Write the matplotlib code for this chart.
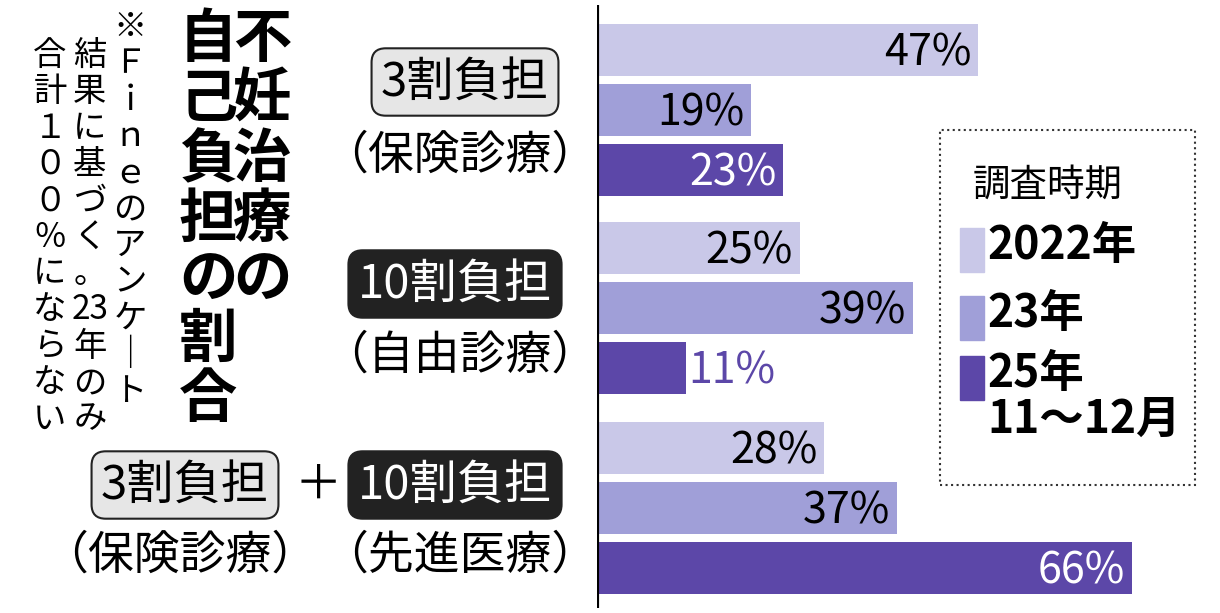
import matplotlib
matplotlib.use('Agg')
import matplotlib.pyplot as plt
from matplotlib.patches import Rectangle

plt.rcParams['font.family'] = ['Noto Sans CJK JP', 'DejaVu Sans']

# data
groups = ['3割負担', '10割負担', '3割負担+10割負担']
years = ['2022年', '23年', '25年\n11～12月']
v2022 = [47, 25, 28]
v2023 = [19, 39, 37]
v2025 = [23, 11, 66]
colors = ['#c9c8e8', '#a09fd8', '#5c47a8']

W, H = 1220, 613
fig = plt.figure(figsize=(W / 100, H / 100), dpi=100)
ppx = 8.1  # pixels per percent
x0 = 597
ax = fig.add_axes([x0 / W, 5 / H, (W - x0) / W, 603 / H])
ax.set_xlim(0, (W - x0) / ppx)
ax.set_ylim(608, 5)
ax.axis('off')
ax.axvline(0, color='black', lw=3)

centers = [50, 248, 448]
txtcol = [['black', 'black', 'white'], ['black', 'black', '#5c47a8'], ['black', 'black', 'white']]
for g, c in enumerate(centers):
    for k, vals in enumerate([v2022, v2023, v2025]):
        y = c + k * 60
        v = vals[g]
        ax.barh(y, v, height=52, color=colors[k])
        col = txtcol[g][k]
        if g == 1 and k == 2:
            ax.text(v + 0.3, y + 4, f'{v}%', color=col, fontsize=31, ha='left', va='center')
        else:
            ax.text(v - 0.8, y + 4, f'{v}%', color=col, fontsize=31, ha='right', va='center')

def vtext(x, y, s, size, weight='normal', ls=0.98):
    fig.text(x / W, 1 - y / H, '\n'.join(s), fontsize=size, weight=weight,
             ha='center', va='top', linespacing=ls)

vtext(262, 10, '不妊治療の', 42, 'bold', 1.0)
vtext(208, 10, '自己負担の割合', 42, 'bold', 1.0)
vtext(130, 10, ['※', 'Ｆ', 'ｉ', 'ｎ', 'ｅ', 'の', 'ア', 'ン', 'ケ', '｜', 'ト'], 24, ls=1.05)
vtext(90, 38, ['結', '果', 'に', '基', 'づ', 'く', '。', '23', '年', 'の', 'み'], 24, ls=1.05)
vtext(50, 38, ['合', '計', '１', '０', '０', '％', 'に', 'な', 'ら', 'な', 'い'], 24, ls=1.05)

def box(x, y, s, dark):
    fig.text(x / W, 1 - y / H, s, fontsize=34, ha='center', va='center',
             color='white' if dark else 'black',
             bbox=dict(boxstyle='round,pad=0.2,rounding_size=0.3',
                       fc='#222222' if dark else '#e6e6e6', ec='#222222', lw=1.5))

def plain(x, y, s, size=33):
    fig.text(x / W, 1 - y / H, s, fontsize=size, ha='center', va='center')

box(465, 82, '3割負担', False)
plain(460, 155, '（保険診療）')
box(455, 284, '10割負担', True)
plain(460, 355, '（自由診療）')
box(185, 485, '3割負担', False)
plain(318, 485, '＋', 34)
box(455, 485, '10割負担', True)
plain(180, 555, '（保険診療）')
plain(460, 555, '（先進医療）')

# legend
fig.patches.append(Rectangle((940 / W, 1 - 485 / H), 255 / W, 355 / H,
                             transform=fig.transFigure, fill=False, ls=':', lw=1.5, ec='#333333'))
fig.text(1048 / W, 1 - 185 / H, '調査時期', fontsize=27, ha='center', va='center')
ly = [250, 318, 378]
for k, (lab, y) in enumerate(zip(years, ly)):
    fig.patches.append(Rectangle((960 / W, 1 - (y + 22) / H), 24 / W, 44 / H,
                                 transform=fig.transFigure, color=colors[k]))
    fig.text(987 / W, 1 - (y - 27) / H, lab, fontsize=32, weight='bold',
             ha='left', va='top', linespacing=1.0)

fig.savefig('out.png', dpi=100, facecolor='white')
